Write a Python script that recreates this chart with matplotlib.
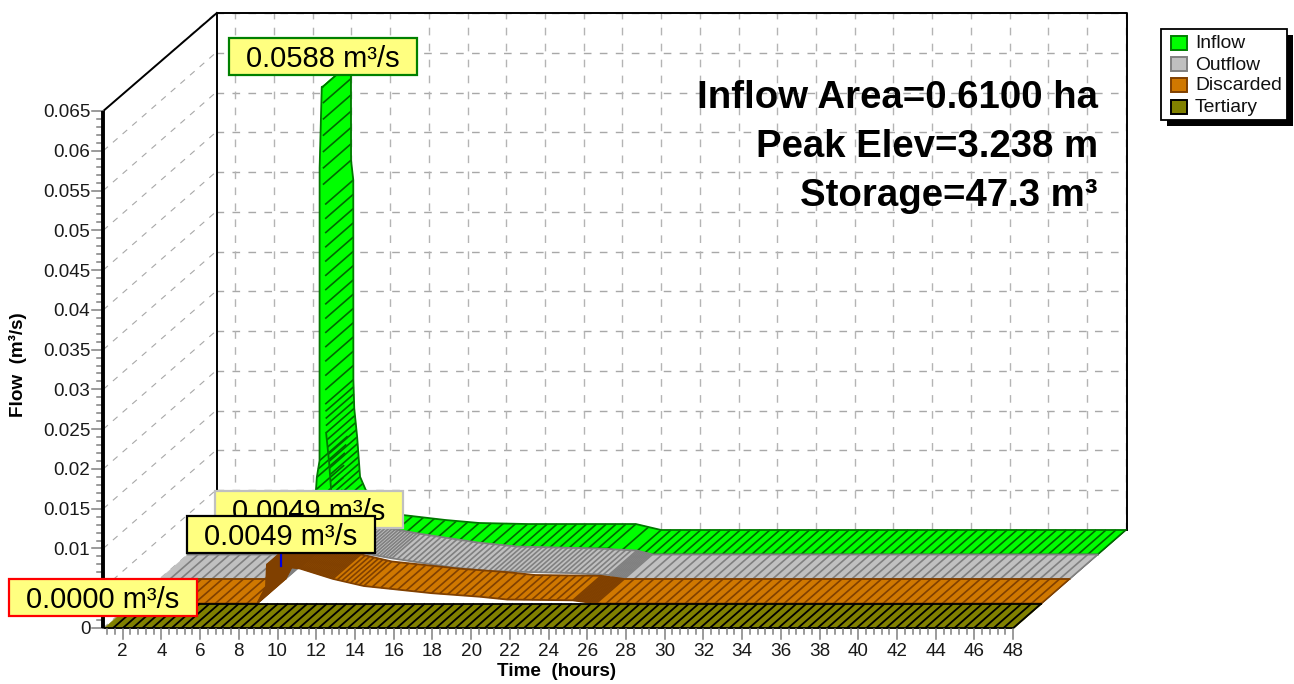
import numpy as np
import matplotlib
matplotlib.use("Agg")
import matplotlib.pyplot as plt
from matplotlib.patches import Rectangle
from matplotlib.collections import LineCollection, PolyCollection

plt.rcParams['font.family'] = ['Liberation Sans', 'DejaVu Sans']

# hydrographs (hours, m3/s)
inflow_t = [1, 4, 6, 7.5, 7.67, 7.81, 7.815, 7.925, 7.98, 7.985, 8.1, 8.105, 8.15, 8.3, 8.45, 8.75, 10.6, 12.85, 14.6, 17.1, 22.7, 24, 48]
inflow_v = [0, 0.0004, 0.0008, 0.0035, 0.0097, 0.0118, 0.0486, 0.0588, 0.0588, 0.0465, 0.044, 0.0189, 0.0153, 0.0117, 0.0067, 0.005, 0.0019, 0.00126, 0.00088, 0.00075, 0.00075, 0, 0]
outflow_t = [1, 7.5, 7.95, 8, 9.7, 11.4, 13, 16, 18, 22.2, 24.2, 25, 48]
outflow_v = [0, 0, 0.0021, 0.0049, 0.0044, 0.0033, 0.0026, 0.0015, 0.001, 0.00075, 0.0005, 0, 0]
discarded_t = [1, 7.5, 7.95, 8, 9.7, 11.4, 13, 16.5, 19, 20.4, 23.8, 25, 48]
discarded_v = [0, 0, 0.0021, 0.0049, 0.0044, 0.0031, 0.0022, 0.0013, 0.00085, 0.0005, 0.0004, 0, 0]
tertiary_t = [1, 48]
tertiary_v = [0, 0]

names = ['Inflow', 'Outflow', 'Discarded', 'Tertiary']
peak_labels = ['0.0588 m³/s', '0.0049 m³/s', '0.0049 m³/s', '0.0000 m³/s']
x_ticks = list(range(2, 49, 2))
y_ticks = [0, 0.01, 0.015, 0.02, 0.025, 0.03, 0.035, 0.04, 0.045, 0.05, 0.055, 0.06, 0.065]
y_grid = [i * 0.005 for i in range(14)]
notes = ['Inflow Area=0.6100 ha', 'Peak Elev=3.238 m', 'Storage=47.3 m³']

# projection of (hours, flow, depth) on the figure
X0, Y0 = 103.3, 628.0
SX, SY = 19.36, 7954.0
DX, DY = 28.13, 24.5
T0, T1, VTOP = 1, 48, 0.065


def px(t, v, d):
    return X0 + (np.asarray(t, float) - T0) * SX + d * DX, Y0 - np.asarray(v, float) * SY - d * DY


def ribbon(ax, t, v, d, face, edge, hatch, zones, lw=1.0, hide_front=None, hide_back=None):
    fx, fy = px(t, v, d)
    bx, by = px(t, v, d + 1)
    quads = [[(fx[i], fy[i]), (fx[i + 1], fy[i + 1]), (bx[i + 1], by[i + 1]), (bx[i], by[i])] for i in range(len(t) - 1)]
    ax.add_collection(PolyCollection(quads, facecolors=face, edgecolors=face, linewidths=0.3, zorder=3))
    segs = []
    for i in range(len(t) - 1):
        step = [s for lim, s in zones if t[i + 1] <= lim][0]
        if step is None:
            continue
        n = max(1, int(np.hypot(fx[i + 1] - fx[i], fy[i + 1] - fy[i]) / step))
        for k in range(1, n + 1):
            f = k / n
            x = fx[i] + f * (fx[i + 1] - fx[i])
            y = fy[i] + f * (fy[i + 1] - fy[i])
            segs.append([(x, y), (x + DX, y - DY)])
    ax.add_collection(LineCollection(segs, colors=hatch, linewidths=lw, zorder=3))
    # the inner edges of the peak do not show
    ta = np.asarray(t, float)
    if hide_front:
        fy = np.where((ta >= hide_front[0]) & (ta <= hide_front[1]), np.nan, fy)
    if hide_back:
        by = np.where((ta >= hide_back[0]) & (ta <= hide_back[1]), np.nan, by)
    ax.plot(fx, fy, color=edge, lw=1.3, zorder=3)
    ax.plot(bx, by, color=edge, lw=1.3, zorder=3)


def value_box(ax, x0, y0, x1, y1, text, edge, z):
    ax.add_patch(Rectangle((x0, y0), x1 - x0, y1 - y0, fc='#FFFF80', ec=edge, lw=1.6, zorder=z))
    ax.text((x0 + x1) / 2, (y0 + y1) / 2 + 2.5, text, fontsize=21, ha='center', va='center', color='black', zorder=z)


fig = plt.figure(figsize=(12.94, 6.84), dpi=100)
ax = fig.add_axes([0, 0, 1, 1])
ax.set_xlim(0, 1294)
ax.set_ylim(684, 0)
ax.axis('off')

# walls and grid
dash = (0, (5.5, 6))
for v in y_grid:
    x0, y0 = px(T0, v, 0)
    x1, y1 = px(T0, v, 4)
    x2, y2 = px(T1, v, 4)
    ax.plot([x0, x1], [y0, y1], color='#a8a8a8', lw=0.8, ls=dash, zorder=1)
    ax.plot([x1, x2], [y1, y1], color='#a8a8a8', lw=1.0, ls=dash, zorder=1)
for t in x_ticks:
    x1, y1 = px(t, 0, 4)
    x2, y2 = px(t, VTOP, 4)
    ax.plot([x1, x2], [y1, y2], color='#b4b4b4', lw=1.0, ls=dash, zorder=1)

xa, ya = px([T0, T0, T1, T1], [0, VTOP, VTOP, 0], 4)
ax.plot(xa + 1, ya, color='black', lw=1.4, zorder=2)
xf, yf = px([T0, T0], [0, VTOP], 0)
ax.plot([xf[1], xa[1] + 1], [yf[1], ya[1]], color='black', lw=1.4, zorder=2)
ax.plot(xf, yf, color='black', lw=2.8, zorder=6, solid_capstyle='butt')
x0, y0 = px(T1, 0, 0)
x1, y1 = px(T1, 0, 4)
ax.plot([x0, x1], [y0, y1], color='black', lw=0.9, zorder=2)

# series, back to front
ribbon(ax, inflow_t, inflow_v, 3, '#00FF00', '#007800', '#006800',
       [(7.67, 10), (7.81, 8), (7.925, None), (8.105, 14), (8.75, 6), (99, 9.7)], lw=1.2,
       hide_front=(7.985, 8.105), hide_back=(7.67, 7.925))
ribbon(ax, outflow_t, outflow_v, 2, '#C0C0C0', '#808080', '#808080',
       [(7.5, 9.7), (8, 1.0), (13, 3), (24.2, 5), (25, 1.5), (99, 9.7)], lw=1.2)
ribbon(ax, discarded_t, discarded_v, 1, '#D07800', '#804000', '#804000',
       [(7.5, 9.7), (8, 0.8), (11.4, 1.5), (13, 4), (24, 8), (25, 1.5), (99, 9.7)], lw=1.2)
ribbon(ax, tertiary_t, tertiary_v, 0, '#808000', 'black', 'black', [(99, 9.7)], lw=1.3)

# axes ticks
for k in range(3, 121):
    x, y = px(k * 0.4, 0, 0)
    major = k % 5 == 0
    ax.plot([x, x], [y + 1, y + (11 if major else 6)], color='#808080', lw=1.1, zorder=5)
for t in x_ticks:
    x, y = px(t, 0, 0)
    ax.text(x, y + 24, str(t), fontsize=13.6, ha='center', va='center', color='#1a1a1a')
for i in range(0, 66):
    x, y = px(T0, i / 1000, 0)
    major = i % 5 == 0
    ax.plot([x - (11 if major else 6), x], [y, y], color='#808080', lw=1.1, zorder=5)
for v in y_ticks:
    x, y = px(T0, v, 0)
    ax.text(x - 13, y + 2, ('%g' % v), fontsize=13.6, ha='right', va='center', color='#1a1a1a')

ax.text(18, 365, 'Flow  (m³/s)', fontsize=13.6, fontweight='bold', rotation=90, ha='center', va='center')
ax.text(557, 672, 'Time  (hours)', fontsize=13.6, fontweight='bold', ha='center', va='center')

# peak marker and value boxes
xm, ym = px(discarded_t[3], discarded_v[3], 1.5)
ax.plot([xm, xm], [ym, ym + 14], color='#0000E0', lw=1.6, zorder=4)
value_box(ax, 228.5, 37.5, 417, 75, peak_labels[0], '#008000', 7)
value_box(ax, 215, 491, 403, 528, peak_labels[1], '#C0C0C0', 7)
value_box(ax, 187, 516, 375, 553, peak_labels[2], 'black', 8)
value_box(ax, 8.5, 579, 197, 616, peak_labels[3], '#FF0000', 9)

# notes
for note, y in zip(notes, [98, 147, 196]):
    ax.text(1098, y, note, fontsize=27.6, fontweight='bold', ha='right', va='center', color='black', zorder=7)

# legend
ax.add_patch(Rectangle((1167, 35), 126, 91, fc='black', ec='black', lw=0, zorder=7))
ax.add_patch(Rectangle((1161, 29), 126, 91, fc='white', ec='black', lw=1.3, zorder=8))
faces = ['#00FF00', '#C0C0C0', '#D07800', '#808000']
edges = ['#008000', '#808080', '#804000', 'black']
for name, fc, ec, y in zip(names, faces, edges, [43, 64, 85, 107]):
    ax.add_patch(Rectangle((1170.5, y - 7), 16, 14, fc=fc, ec=ec, lw=1.4, zorder=9))
    ax.text(1195, y + 1, name, fontsize=13.9, ha='left', va='center', color='#111111', zorder=9)

fig.savefig('out.png', dpi=100)
